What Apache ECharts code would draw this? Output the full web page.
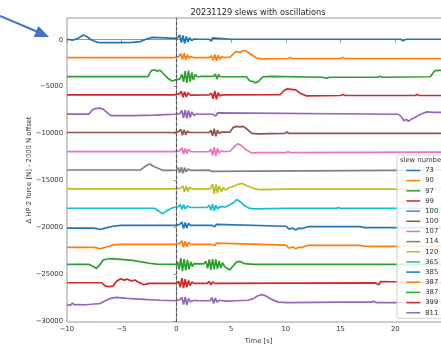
<!DOCTYPE html>
<html>
<head>
<meta charset="utf-8">
<script src="https://cdn.jsdelivr.net/npm/echarts@6/dist/echarts.min.js"></script>
<style>html,body{margin:0;padding:0;background:#fff;}#c{width:441px;height:345px;}</style>
</head>
<body>
<div id="c"></div>
<script>
// slew numbers (legend labels), in plotting order
const slewNames = ['73','90','97','99','100','100','107','114','120','365','385','387','387','399','811'];
// vertical offset of each trace (2000 N steps)
const offsets = [0,-2000,-4000,-6000,-8000,-10000,-12000,-14000,-16000,-18000,-20000,-22000,-24000,-26000,-28000];
const xTicks = [-10,-5,0,5,10,15,20,25];
const yTicks = [0,-5000,-10000,-15000,-20000,-25000,-30000];

// traces: [time s, delta force N] (before offset)
const s73 = [[-10,50],[-9.5,-50],[-9,150],[-8.5,500],[-8.2,350],[-7.8,0],[-7.3,-250],[-7,-300],[-5,-300],[-4,-280],[-3.3,-200],[-2.8,50],[-2.2,250],[-1,200],[-0.2,150],[0.1,200],[0.3,500],[0.45,-300],[0.6,450],[0.75,-400],[0.9,350],[1.05,-250],[1.2,200],[1.4,-100],[1.6,100],[1.9,50],[3.0,50],[3.1,250],[3.2,-150],[3.3,200],[3.45,0],[5,50],[10,50],[20.5,50],[20.6,200],[20.7,-100],[20.8,100],[21,50],[25,50]];
const s90 = [[-10,100],[-0.2,100],[0.2,200],[0.4,500],[0.55,-100],[0.7,550],[0.85,-150],[1.0,400],[1.15,0],[1.3,250],[1.5,100],[3.0,100],[3.2,300],[3.35,-200],[3.5,450],[3.65,-250],[3.8,350],[3.95,-100],[4.1,200],[4.3,100],[4.9,150],[5.2,500],[5.5,750],[5.8,650],[6.1,850],[6.4,800],[6.8,450],[7.3,50],[7.8,-50],[10.2,0],[10.4,100],[10.6,0],[15,0],[15.2,100],[15.4,0],[25,0]];
const s97 = [[-10,70],[-2.6,70],[-2.3,700],[-2.0,800],[-1.8,650],[-1.5,750],[-1.2,400],[-0.8,-100],[-0.4,-400],[0,-250],[0.3,-200],[0.5,300],[0.65,-500],[0.8,650],[0.95,-600],[1.1,700],[1.25,-500],[1.4,500],[1.55,-300],[1.7,300],[1.9,50],[2.3,100],[3.4,100],[3.55,350],[3.7,-200],[3.85,300],[4.0,50],[6.4,50],[6.7,-400],[7.0,-450],[7.2,-600],[7.5,-450],[7.9,50],[8.5,100],[13.3,0],[13.7,-100],[14,0],[18.4,0],[18.6,100],[18.8,0],[23.2,50],[23.6,700],[25,750]];
const s99 = [[-10,120],[-0.2,120],[0.3,250],[0.45,500],[0.6,-150],[0.75,450],[0.9,-100],[1.05,350],[1.25,100],[3.0,120],[3.2,300],[3.35,-300],[3.5,550],[3.65,-350],[3.8,350],[3.95,0],[4.2,120],[9.5,150],[9.8,550],[10.1,750],[10.5,700],[10.9,650],[11.3,300],[11.9,0],[15,50],[15.2,150],[15.4,50],[21.8,50],[22,150],[22.2,50],[25,50]];
const s100a = [[-10,60],[-8,60],[-7.7,500],[-7.4,650],[-7.0,700],[-6.7,600],[-6.3,200],[-6.0,-100],[-4,-100],[-2,-50],[-0.2,50],[0.3,100],[0.5,450],[0.65,-350],[0.8,500],[0.95,-400],[1.1,450],[1.25,-300],[1.4,300],[1.6,-100],[1.8,100],[2.0,50],[3.3,50],[3.45,250],[3.6,-150],[3.75,200],[3.9,50],[20.3,50],[20.6,-300],[20.8,-650],[21.0,-500],[21.2,-700],[21.5,-450],[21.8,-300],[22.3,50],[22.9,300],[23.5,250],[25,250]];
const s100b = [[-10,100],[-0.2,100],[0.2,200],[0.4,450],[0.55,-200],[0.7,400],[0.85,-150],[1.0,250],[1.2,100],[3.0,100],[3.15,350],[3.3,-250],[3.45,500],[3.6,-300],[3.75,350],[3.9,0],[4.1,150],[4.9,150],[5.2,650],[5.5,750],[5.8,700],[6.1,750],[6.4,500],[6.9,0],[7.5,-50],[9.9,0],[10.1,150],[10.3,0],[25,0]];
const s107 = [[-10,60],[-0.2,60],[0.3,150],[0.5,450],[0.65,-200],[0.8,400],[0.95,-150],[1.1,300],[1.3,50],[3.0,60],[3.15,350],[3.3,-350],[3.45,550],[3.6,-400],[3.75,400],[3.9,-100],[4.1,150],[4.3,60],[4.9,100],[5.3,600],[5.6,900],[5.9,750],[6.3,300],[6.9,-100],[7.5,-50],[10,-50],[10.2,50],[10.4,-50],[25,0]];
const s114 = [[-10,100],[-3.3,100],[-3.0,350],[-2.7,600],[-2.4,750],[-2.2,550],[-1.8,350],[-1.2,50],[-0.5,50],[0,100],[0.15,350],[0.3,-200],[0.45,400],[0.6,-250],[0.75,350],[0.9,-100],[1.05,200],[1.3,50],[3.0,80],[3.1,250],[3.25,-50],[3.4,100],[25,100]];
const s120 = [[-10,80],[-0.2,80],[0.4,150],[0.6,400],[0.75,-250],[0.9,400],[1.05,-200],[1.2,250],[1.4,80],[3.1,80],[3.3,600],[3.45,-450],[3.6,550],[3.75,-350],[3.9,400],[4.1,-200],[4.3,250],[4.5,-50],[4.8,200],[5.3,400],[5.7,600],[6.0,650],[6.4,450],[7.0,150],[7.5,0],[10,50],[15,50],[25,50]];
const s365 = [[-10,20],[-2.0,20],[-1.6,-300],[-1.3,-550],[-1.1,-450],[-0.8,-200],[-0.4,50],[-0.1,150],[0.2,200],[0.35,450],[0.5,-100],[0.65,400],[0.8,-50],[1.0,250],[1.3,100],[2.8,100],[3.0,350],[3.15,-200],[3.3,450],[3.45,-250],[3.6,350],[3.75,-50],[3.95,200],[4.5,150],[4.9,400],[5.2,600],[5.5,950],[5.8,750],[6.2,300],[6.7,0],[7.2,-50],[10,0],[14.6,0],[14.8,100],[15,0],[25,0]];
const s385 = [[-10,-100],[-7.5,-100],[-7.0,-250],[-6.5,-100],[-5.8,100],[-5.1,200],[0,200],[0.3,300],[0.5,550],[0.65,-150],[0.8,500],[0.95,-100],[1.1,400],[1.3,200],[3.2,200],[3.35,400],[3.5,50],[3.65,300],[3.8,150],[10,100],[10.3,-200],[10.6,-100],[10.9,-300],[11.2,-100],[11.5,-150],[12,50],[16.8,50],[17.2,-50],[25,-50]];
const s387a = [[-10,-150],[-7.5,-150],[-7.0,-300],[-6.5,-150],[-5.8,100],[-5.1,170],[0,170],[0.3,300],[0.5,550],[0.65,-150],[0.8,500],[0.95,-100],[1.1,400],[1.3,170],[3.2,170],[3.35,350],[3.5,50],[3.65,300],[3.8,100],[10,80],[10.3,-250],[10.6,-100],[10.9,-300],[11.2,-150],[11.5,-150],[12,50],[16.8,50],[17.2,-50],[25,-50]];
const s387b = [[-10,30],[-8,30],[-7.6,-200],[-7.3,-400],[-7.0,0],[-6.7,500],[-6.3,600],[-5.9,650],[-4,450],[-2.5,150],[-1.8,50],[0,30],[0.1,300],[0.25,-500],[0.4,700],[0.55,-700],[0.7,600],[0.85,-600],[1.0,500],[1.15,-500],[1.3,300],[1.45,-200],[1.6,100],[2.5,80],[2.7,350],[2.85,-400],[3.0,550],[3.15,-550],[3.3,600],[3.45,-500],[3.6,550],[3.75,-450],[3.9,400],[4.05,-350],[4.2,200],[4.4,-200],[4.7,-450],[4.9,-550],[5.2,-100],[5.5,300],[5.8,350],[6.2,100],[7,30],[25,30]];
const s399 = [[-10,70],[-6.8,70],[-6.5,-300],[-6.2,-350],[-5.8,-300],[-5.5,200],[-5.1,500],[-4.8,350],[-4.5,450],[-4.1,250],[-3.8,350],[-3.5,150],[-3.0,-150],[-2.5,0],[-1,0],[0,0],[0.2,200],[0.35,-400],[0.5,550],[0.65,-500],[0.8,450],[0.95,-400],[1.1,300],[1.25,-250],[1.4,150],[1.6,0],[2.8,0],[3.0,200],[3.15,-150],[3.3,150],[3.5,0],[18.2,50],[18.35,250],[18.5,-150],[18.65,200],[18.8,50],[25,50]];
const s811 = [[-10,-300],[-9.7,-350],[-9.5,-100],[-9.3,-300],[-9.0,-250],[-8.5,-300],[-8.0,-250],[-7.5,-200],[-7.0,-150],[-6.5,150],[-6.0,400],[-5.5,500],[-4.5,400],[-3,300],[-1.5,200],[0,150],[0.3,250],[0.5,500],[0.65,-250],[0.8,550],[0.95,-300],[1.1,400],[1.3,50],[1.6,200],[2.0,150],[3.1,150],[3.25,500],[3.4,-150],[3.55,450],[3.7,0],[3.9,200],[4.5,100],[5.5,150],[6.5,200],[7.0,350],[7.4,650],[7.8,800],[8.1,700],[8.6,350],[9.3,0],[10.1,-50],[15,0],[17.8,0],[18.0,100],[18.3,-50],[25,-50]];

const traces = [s73,s90,s97,s99,s100a,s100b,s107,s114,s120,s365,s385,s387a,s387b,s399,s811];
const colors = ['#1f77b4','#ff7f0e','#2ca02c','#d62728','#9467bd','#8c564b','#e377c2','#7f7f7f','#bcbd22','#17becf','#1f77b4','#ff7f0e','#2ca02c','#d62728','#9467bd'];

const FONT = 'DejaVu Sans';
const fmt = v => String(v).replace('-', '\u2212');

// unique legend keys for repeated slew numbers
const seen = {};
const keys = slewNames.map(n => { seen[n] = (seen[n] || 0) + 1; return n + '\u200b'.repeat(seen[n] - 1); });

const series = traces.map((tr, i) => ({
  type: 'line',
  name: keys[i],
  data: tr.map(p => [p[0], p[1] + offsets[i]]),
  showSymbol: false,
  symbol: 'none',
  lineStyle: { width: 1.7, color: colors[i] },
  itemStyle: { color: colors[i] },
  silent: true,
  animation: false,
  z: 2
}));
series[series.length - 1].markLine = {
  silent: true, symbol: 'none', animation: false,
  label: { show: false },
  lineStyle: { color: '#555', type: [3.5, 1.8], width: 1.2 },
  data: [{ xAxis: 0 }]
};

const chart = echarts.init(document.getElementById('c'), null, { renderer: 'canvas' });
chart.setOption({
  animation: false,
  backgroundColor: '#fff',
  color: colors,
  grid: { left: 67, top: 18, width: 383, height: 304, show: true, borderColor: '#999', borderWidth: 1, containLabel: false, outerBoundsMode: 'none' },
  xAxis: {
    type: 'value', min: -10, max: 25, interval: 5,
    name: 'Time [s]', nameLocation: 'middle', nameGap: 16,
    nameTextStyle: { fontFamily: FONT, fontSize: 6.8, color: '#333' },
    axisLine: { show: true, lineStyle: { color: '#999', width: 1 } },
    axisTick: { show: true, length: 3, lineStyle: { color: '#999' } },
    axisLabel: { fontFamily: FONT, fontSize: 6.8, color: '#333', margin: 4, formatter: fmt, customValues: xTicks },
    splitLine: { show: false }
  },
  yAxis: {
    type: 'value', min: -30120, max: 2320,
    name: '\u0394 HP 2 force [N] - 2000 N offset', nameLocation: 'middle', nameGap: 34, nameMoveOverlap: false,
    nameTextStyle: { fontFamily: FONT, fontSize: 6.8, color: '#333' },
    axisLine: { show: true, lineStyle: { color: '#999', width: 1 } },
    axisTick: { show: true, length: 3, lineStyle: { color: '#999' }, customValues: yTicks },
    axisLabel: { fontFamily: FONT, fontSize: 6.8, color: '#333', margin: 4, formatter: fmt, customValues: yTicks },
    splitLine: { show: false }
  },
  legend: {
    orient: 'vertical', left: 397, top: 155,
    padding: [11.5, 40, 1.5, 8.5],
    itemWidth: 14, itemHeight: 8, itemGap: 2.16,
    backgroundColor: 'rgba(255,255,255,0.85)', borderColor: '#d0d0d0', borderWidth: 1, borderRadius: 2,
    selectedMode: false,
    itemStyle: { opacity: 0, borderWidth: 0 },
    lineStyle: { width: 1.5 },
    textStyle: { fontFamily: FONT, fontSize: 6.8, color: '#333', lineHeight: 8 },
    data: keys
  },
  graphic: [
    { type: 'text', x: 258, y: 13, z: 10, style: { text: '20231129 slews with oscillations', fontFamily: FONT, fontSize: 8.2, fill: '#222', textAlign: 'center', textVerticalAlign: 'middle' } },
    { type: 'text', x: 400, y: 160.5, z: 10, style: { text: 'slew number', fontFamily: FONT, fontSize: 6.8, fill: '#333', textAlign: 'left', textVerticalAlign: 'middle' } },
    { type: 'line', z: 10, shape: { x1: 0, y1: 16, x2: 38, y2: 32 }, style: { stroke: '#4472C4', lineWidth: 2 } },
    { type: 'polygon', z: 10, shape: { points: [[49, 37], [33.7, 37.0], [38.5, 26.0]] }, style: { fill: '#4472C4' } }
  ],
  series: series
});
</script>
</body>
</html>
